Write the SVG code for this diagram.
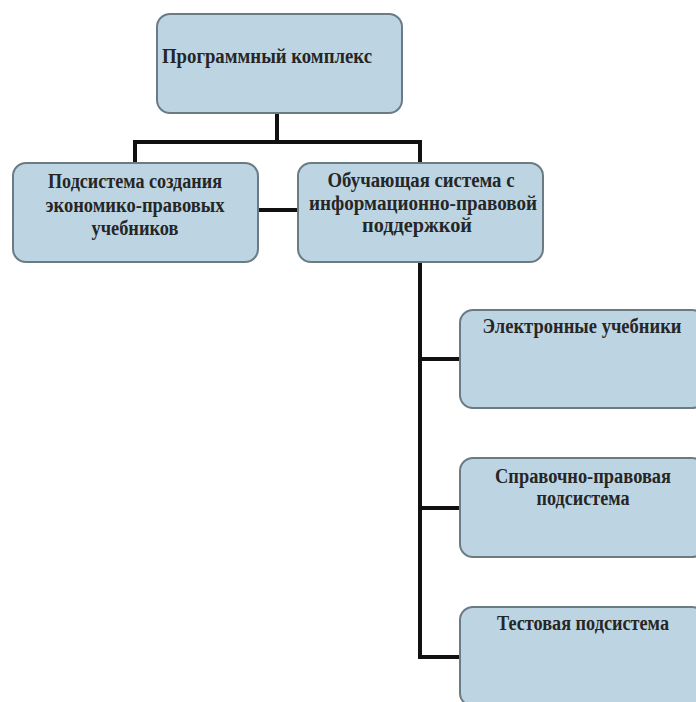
<svg xmlns="http://www.w3.org/2000/svg" width="696" height="702" viewBox="0 0 696 702">
<style>
.box{fill:#bdd5e3;stroke:#6b7b83;stroke-width:2}
.t{font-family:"Liberation Serif","Times New Roman",serif;font-weight:bold;font-size:20px;fill:#262626}
.c{text-anchor:middle}
.ln{fill:none;stroke:#111;stroke-width:4}
</style>
<rect width="696" height="702" fill="#fff"/>
<g id="connectors">
<path class="ln" d="M277,113 V142 M135,163 V142 H420 V163"/>
<path class="ln" d="M258,210 H298" stroke-width="5"/>
<path class="ln" d="M420,262 V657 H462 M420,359 H462 M420,508 H462"/>
</g>
<g id="n1"><rect class="box" x="157" y="14" width="245" height="99" rx="13"/>
<text class="t" x="162" y="63" textLength="210" lengthAdjust="spacingAndGlyphs">Программный комплекс</text></g>
<g id="n2"><rect class="box" x="13" y="163" width="245" height="99" rx="13"/>
<text class="t c" x="135" y="188" textLength="174" lengthAdjust="spacingAndGlyphs">Подсистема создания</text>
<text class="t c" x="135" y="212" textLength="179" lengthAdjust="spacingAndGlyphs">экономико-правовых</text>
<text class="t c" x="135" y="235" textLength="87" lengthAdjust="spacingAndGlyphs">учебников</text></g>
<g id="n3"><rect class="box" x="298" y="163" width="245" height="99" rx="13"/>
<text class="t c" x="421" y="187" textLength="187" lengthAdjust="spacingAndGlyphs">Обучающая система с</text>
<text class="t c" x="423" y="210" textLength="228" lengthAdjust="spacingAndGlyphs">информационно-правовой</text>
<text class="t c" x="417" y="232" textLength="110" lengthAdjust="spacingAndGlyphs">поддержкой</text></g>
<g id="n4"><rect class="box" x="460" y="310" width="245" height="98" rx="13"/>
<text class="t c" x="582" y="333" textLength="199" lengthAdjust="spacingAndGlyphs">Электронные учебники</text></g>
<g id="n5"><rect class="box" x="460" y="458" width="245" height="99" rx="13"/>
<text class="t c" x="583" y="483" textLength="176" lengthAdjust="spacingAndGlyphs">Справочно-правовая</text>
<text class="t c" x="583" y="505" textLength="93" lengthAdjust="spacingAndGlyphs">подсистема</text></g>
<g id="n6"><rect class="box" x="460" y="607" width="245" height="99" rx="13"/>
<text class="t c" x="583" y="630" textLength="172" lengthAdjust="spacingAndGlyphs">Тестовая подсистема</text></g>
</svg>
